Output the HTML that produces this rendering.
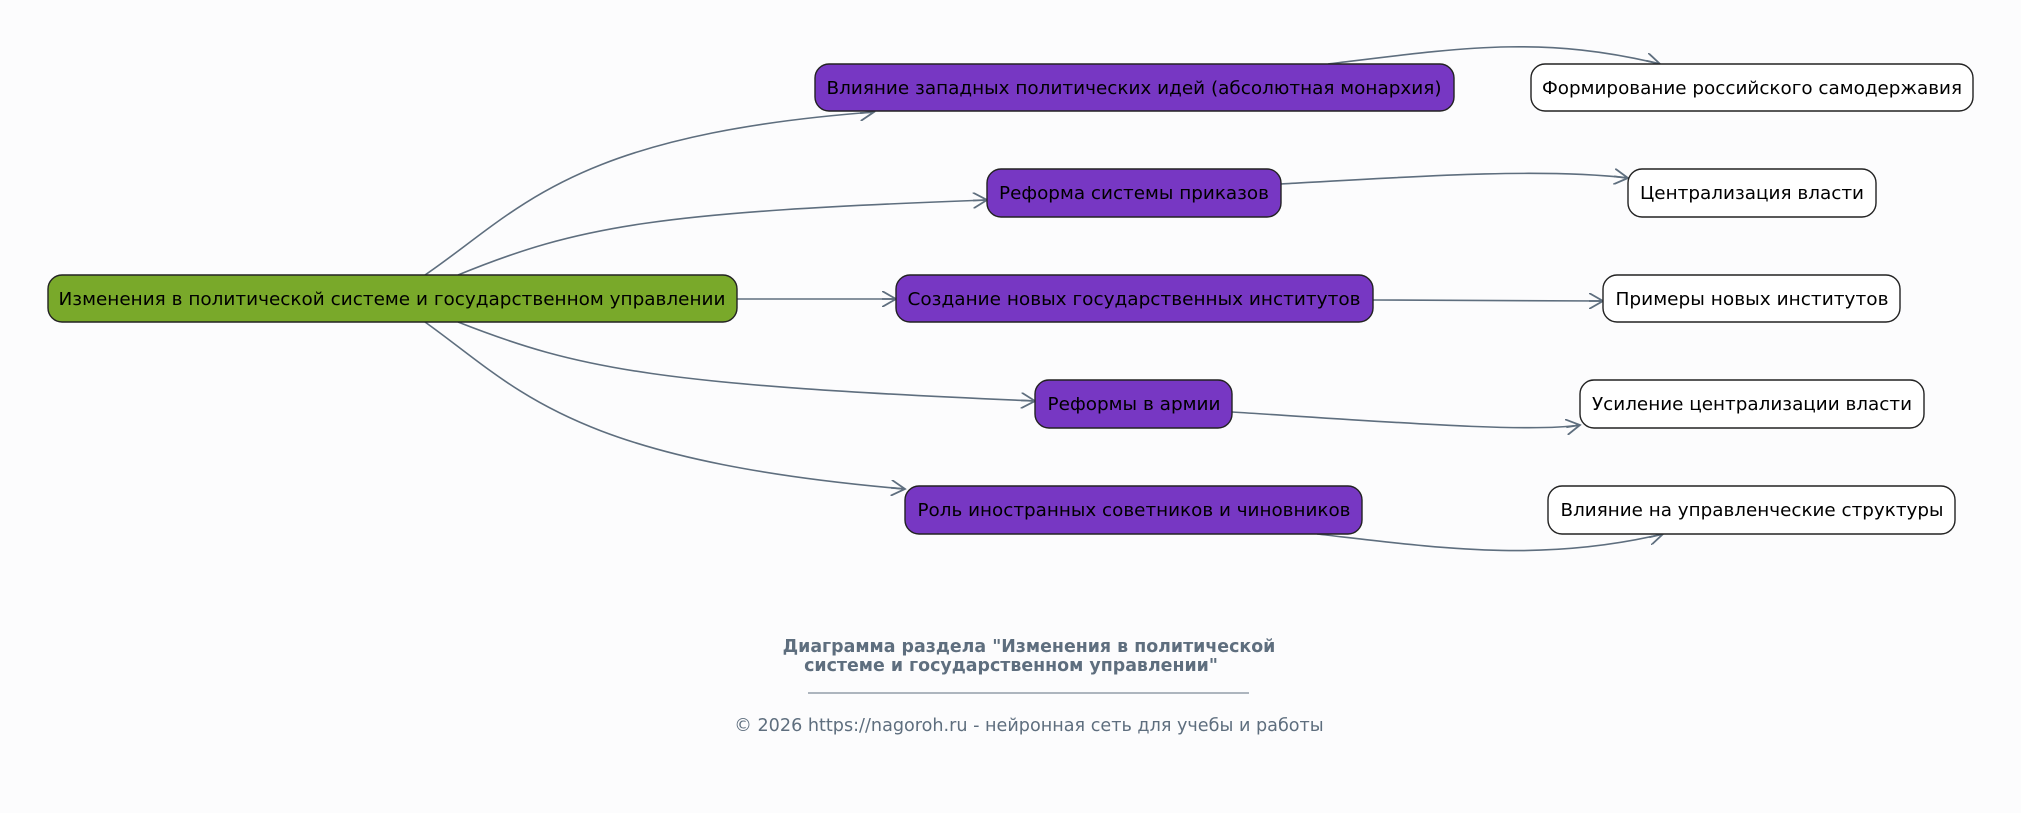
<!DOCTYPE html>
<html><head><meta charset="utf-8"><style>
body{margin:0;background:#fcfcfd;}
svg text{font-family:"DejaVu Sans","Liberation Sans",sans-serif;}
</style></head><body>
<svg width="2021" height="808" xmlns="http://www.w3.org/2000/svg">
<defs><marker id="a" markerWidth="16" markerHeight="16" refX="14" refY="8" orient="auto" markerUnits="userSpaceOnUse"><path d="M0,0 L14,8 L0,16 M0,8 L14,8" fill="none" stroke="#5e6e7e" stroke-width="1.8"/></marker></defs>
<g fill="none" stroke="#5e6e7e" stroke-width="1.6" marker-end="url(#a)">
<path d="M425,275 C520,210 570,135 874,112"/>
<path d="M458,275 C580,225 660,212 987,200"/>
<path d="M737,299 L896,299"/>
<path d="M458,322 C580,370 660,385 1035,401"/>
<path d="M425,322 C520,390 570,460 905,489"/>
<path d="M1328,64 C1460,48 1540,35 1660,64"/>
<path d="M1281,184 C1420,176 1540,168 1628,178"/>
<path d="M1373,300 C1460,301 1540,301 1603,301"/>
<path d="M1232,412 C1390,422 1530,433 1580,425"/>
<path d="M1317,534 C1440,548 1540,563 1663,534"/>
</g>
<g stroke="#222" stroke-width="1.4">
<rect x="48" y="275" width="689" height="47" rx="14" fill="#79a92a"/>
<rect x="815" y="64" width="639" height="47" rx="14" fill="#7737c3"/>
<rect x="987" y="169" width="294" height="48" rx="14" fill="#7737c3"/>
<rect x="896" y="275" width="477" height="47" rx="14" fill="#7737c3"/>
<rect x="1035" y="380" width="197" height="48" rx="14" fill="#7737c3"/>
<rect x="905" y="486" width="457" height="48" rx="14" fill="#7737c3"/>
<rect x="1531" y="64" width="442" height="47" rx="14" fill="#fff"/>
<rect x="1628" y="169" width="248" height="48" rx="14" fill="#fff"/>
<rect x="1603" y="275" width="297" height="47" rx="14" fill="#fff"/>
<rect x="1580" y="380" width="344" height="48" rx="14" fill="#fff"/>
<rect x="1548" y="486" width="407" height="48" rx="14" fill="#fff"/>
</g>
<g font-size="17.5" fill="#000" text-anchor="middle">
<text x="392" y="305" textLength="667" lengthAdjust="spacingAndGlyphs">Изменения в политической системе и государственном управлении</text>
<text x="1134" y="94" textLength="615" lengthAdjust="spacingAndGlyphs">Влияние западных политических идей (абсолютная монархия)</text>
<text x="1134" y="199" textLength="270" lengthAdjust="spacingAndGlyphs">Реформа системы приказов</text>
<text x="1134" y="305" textLength="453" lengthAdjust="spacingAndGlyphs">Создание новых государственных институтов</text>
<text x="1134" y="410" textLength="173" lengthAdjust="spacingAndGlyphs">Реформы в армии</text>
<text x="1134" y="516" textLength="433" lengthAdjust="spacingAndGlyphs">Роль иностранных советников и чиновников</text>
<text x="1752" y="94" textLength="420" lengthAdjust="spacingAndGlyphs">Формирование российского самодержавия</text>
<text x="1752" y="199" textLength="224" lengthAdjust="spacingAndGlyphs">Централизация власти</text>
<text x="1752" y="305" textLength="273" lengthAdjust="spacingAndGlyphs">Примеры новых институтов</text>
<text x="1752" y="410" textLength="320" lengthAdjust="spacingAndGlyphs">Усиление централизации власти</text>
<text x="1752" y="516" textLength="383" lengthAdjust="spacingAndGlyphs">Влияние на управленческие структуры</text>
</g>
<g fill="#5e6e7e" text-anchor="middle">
<text x="1029" y="652" font-size="17.4" font-weight="bold">Диаграмма раздела "Изменения в политической</text>
<text x="1011" y="671" font-size="17.4" font-weight="bold">системе и государственном управлении"</text>
<line x1="808" y1="693" x2="1249" y2="693" stroke="#5e6e7e" stroke-width="1"/>
<text x="1029" y="731" font-size="17.6">© 2026 https://nagoroh.ru - нейронная сеть для учебы и работы</text>
</g>
</svg>
</body></html>
